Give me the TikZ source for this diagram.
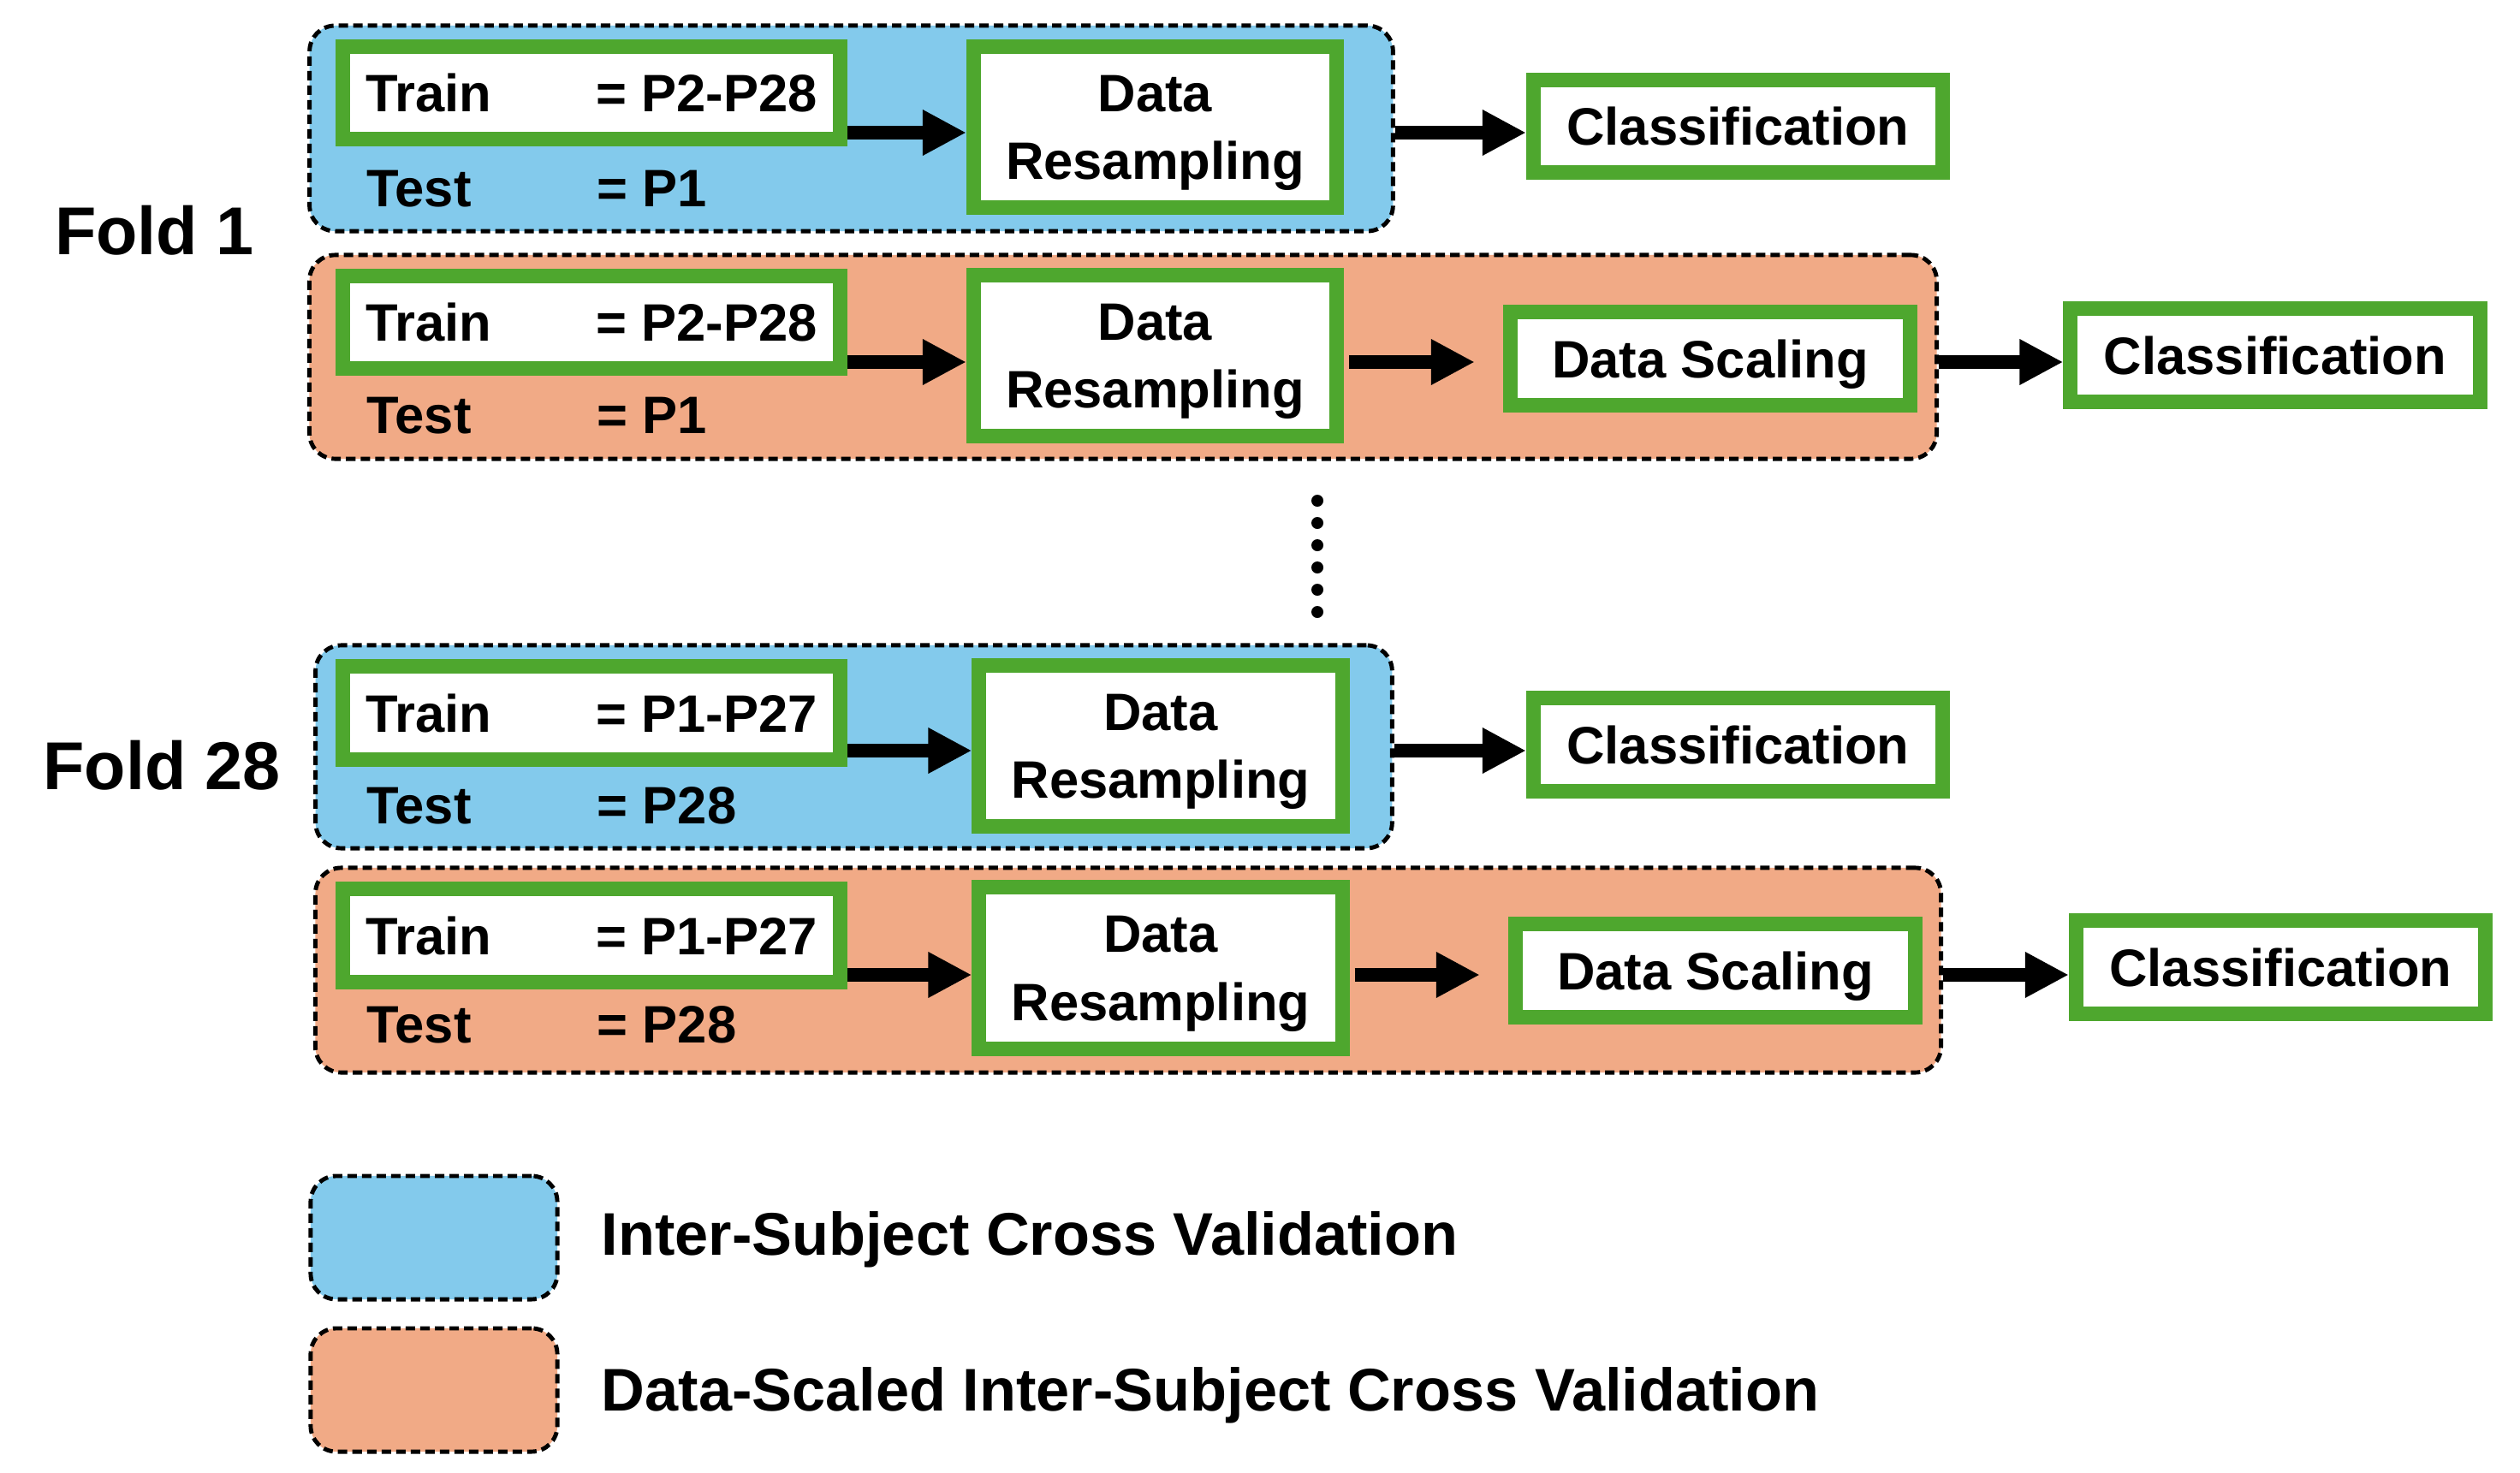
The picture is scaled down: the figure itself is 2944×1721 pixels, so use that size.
\documentclass[tikz,border=0pt]{standalone}
\usepackage{fontspec}
\setmainfont{Liberation Sans}
\usetikzlibrary{arrows.meta,positioning,calc}
\definecolor{cvblue}{RGB}{131,202,236}
\definecolor{cvorange}{RGB}{241,170,134}
\definecolor{boxgreen}{RGB}{78,167,46}

\begin{document}
\begin{tikzpicture}[x=0.01cm,y=-0.01cm,font=\bfseries\fontsize{17.5}{22.7}\selectfont]

\tikzset{bluebox/.style={fill=cvblue,draw=black,line width=1.4pt,dash pattern=on 0.11cm off 0.06cm,rounded corners=0.3cm,inner sep=0pt},
orangebox/.style={bluebox,fill=cvorange},
greenbox/.style={fill=white,draw=boxgreen,line width=0.17cm,inner sep=0pt,align=center},
trainbox/.style={greenbox,minimum width=5.81cm,minimum height=1.08cm},
resbox/.style={greenbox,minimum width=4.24cm,minimum height=1.88cm},
classbox/.style={greenbox,minimum width=4.78cm,minimum height=1.08cm},
scalebox/.style={greenbox,minimum width=4.67cm,minimum height=1.09cm,text depth=0pt},
testlbl/.style={anchor=base west,inner sep=0pt},
arr/.style={line width=0.16cm,-{Triangle[length=0.51cm,width=0.5cm]}},
foldlbl/.style={font=\bfseries\fontsize{22.5}{27}\selectfont,anchor=base,inner sep=0pt},
legendlbl/.style={font=\bfseries\fontsize{20}{24}\selectfont,anchor=base west,inner sep=0pt},
dotnode/.style={fill=black,shape=circle,inner sep=0pt,minimum size=0.14cm}}

\useasboundingbox (0,0) rectangle (2944,1721);

% Fold labels
\node[foldlbl] (f1) at (180.5,297) {Fold 1};
\node[foldlbl] (f28) at (189,922) {Fold 28};

% Fold 1, inter-subject
\node[bluebox,minimum width=12.65cm,minimum height=2.4cm] (cv1) at (994.5,150) {};
\node[trainbox] (tr1) at (691,108.5) {\makebox[2.69cm][l]{Train}= P2-P28};
\node[testlbl] (te1) at (428,241) {\makebox[2.69cm][l]{Test}= P1};
\node[resbox] (rs1) at (1349.5,148.5) {\rule{0pt}{0.56cm}Data\\Resampling};
\node[classbox] (cl1) at (2030.5,147.5) {Classification};
\coordinate (row1) at (0,155);
\draw[arr] (tr1.east |- row1) -- (rs1.west |- row1);
\draw[arr] (cv1.east |- row1) -- (cl1.west |- row1);

% Fold 1, data-scaled
\node[orangebox,minimum width=19cm,minimum height=2.38cm] (ds1) at (1312,417) {};
\node[trainbox] (tr2) at (691,376.5) {\makebox[2.69cm][l]{Train}= P2-P28};
\node[testlbl] (te2) at (428,506) {\makebox[2.69cm][l]{Test}= P1};
\node[resbox] (rs2) at (1349.5,415.5) {\rule{0pt}{0.56cm}Data\\Resampling};
\node[scalebox] (sc1) at (1998,419) {Data Scaling};
\node[classbox] (cl2) at (2658,415) {Classification};
\coordinate (row2) at (0,423);
\draw[arr] (tr2.east |- row2) -- (rs2.west |- row2);
\draw[arr,shorten <=0.06cm,shorten >=0.33cm] (rs2.east |- row2) -- (sc1.west |- row2);
\draw[arr] (ds1.east |- row2) -- (cl2.west |- row2);

% the folds in between
\foreach \k in {0,...,5} \node[dotnode] (dot\k) at (1539,585+26*\k) {};

% Fold 28, inter-subject
\node[bluebox,minimum width=12.57cm,minimum height=2.37cm] (cv2) at (997.5,872.5) {};
\node[trainbox] (tr3) at (691,833) {\makebox[2.69cm][l]{Train}= P1-P27};
\node[testlbl] (te3) at (428,962) {\makebox[2.69cm][l]{Test}= P28};
\node[resbox] (rs3) at (1356,871.5) {\rule{0pt}{0.56cm}Data\\Resampling};
\node[classbox] (cl3) at (2030.5,870) {Classification};
\coordinate (row3) at (0,877);
\draw[arr] (tr3.east |- row3) -- (rs3.west |- row3);
\draw[arr] (cv2.east |- row3) -- (cl3.west |- row3);

% Fold 28, data-scaled
\node[orangebox,minimum width=18.98cm,minimum height=2.39cm] (ds2) at (1318,1133.5) {};
\node[trainbox] (tr4) at (691,1093) {\makebox[2.69cm][l]{Train}= P1-P27};
\node[testlbl] (te4) at (428,1218) {\makebox[2.69cm][l]{Test}= P28};
\node[resbox] (rs4) at (1356,1131) {\rule{0pt}{0.56cm}Data\\Resampling};
\node[scalebox] (sc2) at (2004,1134) {Data Scaling};
\node[classbox] (cl4) at (2664.5,1130) {Classification};
\coordinate (row4) at (0,1139);
\draw[arr] (tr4.east |- row4) -- (rs4.west |- row4);
\draw[arr,shorten <=0.06cm,shorten >=0.33cm] (rs4.east |- row4) -- (sc2.west |- row4);
\draw[arr] (ds2.east |- row4) -- (cl4.west |- row4);

% Legend
\node[bluebox,minimum width=2.88cm,minimum height=1.44cm] (lg1) at (507,1446) {};
\node[orangebox,minimum width=2.88cm,minimum height=1.44cm] (lg2) at (507,1624) {};
\node[legendlbl] (lt1) at (702,1466) {Inter-Subject Cross Validation};
\node[legendlbl] (lt2) at (702,1648) {Data-Scaled Inter-Subject Cross Validation};

\end{tikzpicture}
\end{document}
